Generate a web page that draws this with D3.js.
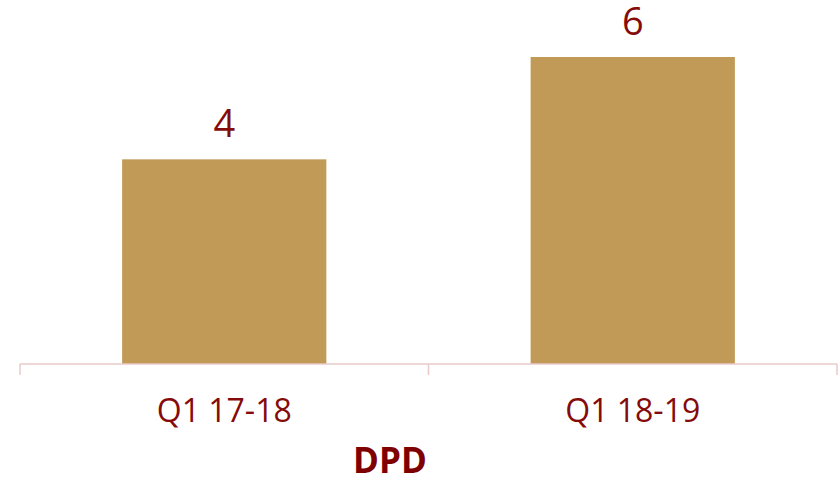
<!DOCTYPE html>
<html>
<head>
<meta charset="utf-8">
<script src="https://cdn.jsdelivr.net/npm/d3@7"></script>
<style>
  body { margin: 0; background: #fff; }
</style>
</head>
<body>
<div id="chart"></div>
<script>
    // Data
    const categories = ["Q1 17-18", "Q1 18-19"];
    const values = [4, 6];
    const axisTitle = "DPD";

    // Dimensions
    const width = 839, height = 486;
    const left = 20, right = 837, baseline = 364;

    const svg = d3.select("#chart").append("svg")
        .attr("width", width)
        .attr("height", height);

    // Scales
    const x = d3.scaleBand()
        .domain(categories)
        .range([left, right])
        .paddingInner(0.5)
        .paddingOuter(0.25);

    const y = d3.scaleLinear()
        .domain([0, 6])
        .range([baseline, 57]);

    const textColor = "#850a0a";

    // Bars
    svg.selectAll("rect.bar")
        .data(values)
        .enter().append("rect")
        .attr("class", "bar")
        .attr("x", (d, i) => x(categories[i]))
        .attr("y", d => y(d))
        .attr("width", x.bandwidth())
        .attr("height", d => y(0) - y(d))
        .attr("fill", "#c19a57");

    // Value labels
    svg.selectAll("text.value")
        .data(values)
        .enter().append("text")
        .attr("class", "value")
        .attr("x", (d, i) => x(categories[i]) + x.bandwidth() / 2)
        .attr("y", d => y(d) - 22)
        .attr("text-anchor", "middle")
        .style("font-family", "'Open Sans', sans-serif")
        .style("font-size", "38px")
        .style("fill", textColor)
        .text(d => d);

    // Axis line and ticks (between categories)
    const axisColor = "#e8caca";
    svg.append("line")
        .attr("x1", left).attr("x2", right)
        .attr("y1", baseline).attr("y2", baseline)
        .attr("stroke", axisColor)
        .attr("stroke-width", 1.5);

    const tickXs = [left, (left + right) / 2, right];
    svg.selectAll("line.tick")
        .data(tickXs)
        .enter().append("line")
        .attr("class", "tick")
        .attr("x1", d => d).attr("x2", d => d)
        .attr("y1", baseline).attr("y2", baseline + 11)
        .attr("stroke", axisColor)
        .attr("stroke-width", 1.5);

    // Category labels
    svg.selectAll("text.cat")
        .data(categories)
        .enter().append("text")
        .attr("class", "cat")
        .attr("x", d => x(d) + x.bandwidth() / 2)
        .attr("y", 422)
        .attr("text-anchor", "middle")
        .style("font-family", "'Open Sans', sans-serif")
        .style("font-size", "32px")
        .style("fill", textColor)
        .text(d => d);

    // Axis title
    svg.append("text")
        .attr("x", 390)
        .attr("y", 473)
        .attr("text-anchor", "middle")
        .style("font-family", "'Open Sans', sans-serif")
        .style("font-size", "35px")
        .style("font-weight", "bold")
        .style("fill", "#7f0000")
        .text(axisTitle);
</script>
</body>
</html>
